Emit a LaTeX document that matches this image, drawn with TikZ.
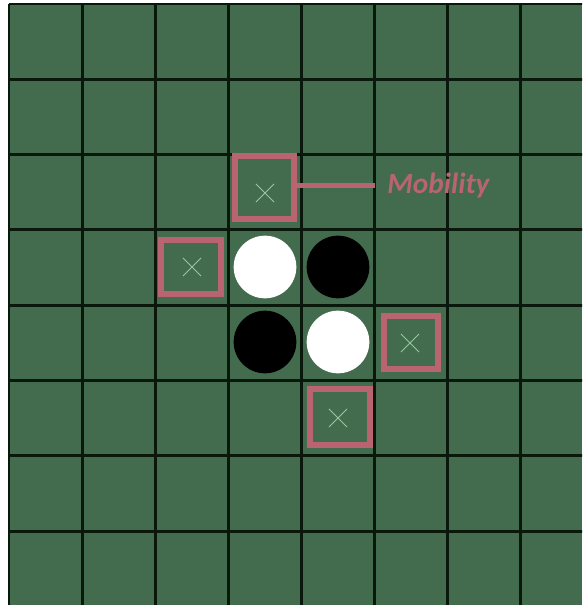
\documentclass[tikz,border=0pt]{standalone}
\usepackage{fontspec}
\setsansfont{Carlito}
\usetikzlibrary{positioning,shapes.misc}

\definecolor{boardgreen}{RGB}{67,107,77}
\definecolor{gridcol}{RGB}{10,24,12}
\definecolor{mvpink}{RGB}{184,100,113}
\definecolor{xgreen}{RGB}{150,200,160}

\begin{document}
\begin{tikzpicture}[
  x=0.75pt, y=-0.75pt,
  gridline/.style={draw=gridcol, line width=2.2pt},
  disc/.style={circle, minimum size=47pt, inner sep=0pt},
  mvbox/.style={draw=mvpink, line width=4.5pt, inner sep=0pt, minimum width=44pt, minimum height=44pt},
  xmark/.style={cross out, draw=xgreen, line width=0.6pt, minimum size=13pt, inner sep=0pt},
  link/.style={draw=mvpink, line width=4pt},
  mobtxt/.style={font=\sffamily\bfseries\itshape\fontsize{22}{26}\selectfont, text=mvpink, inner xsep=9pt, inner ysep=0pt}
]
\useasboundingbox (0,0) rectangle (582,605);
\fill[white] (0,0) rectangle (582,605);
\clip (0,0) rectangle (582,605);
\fill[boardgreen] (9,4) rectangle (582,605);

% board lines
\foreach \i in {0,...,8}
  \draw[gridline] ({9+73.1*\i},4) -- ({9+73.1*\i},612);
\foreach \j in {0,...,8}
  \draw[gridline] (9,{4+75.3*\j}) -- (590,{4+75.3*\j});

% discs
\node[disc, fill=white] (w1) at (265,267) {};
\node[disc, fill=black] (k1) at (338,267) {};
\node[disc, fill=black] (k2) at (265,342) {};
\node[disc, fill=white] (w2) at (338,342) {};

% legal moves
\node[mvbox, minimum width=44pt, minimum height=47pt] (mv1) at (264.5,187.5) {};
\node[mvbox, minimum width=45pt, minimum height=41pt] (mv2) at (191,267) {};
\node[mvbox, minimum width=41pt, minimum height=40pt] (mv3) at (411,342.5) {};
\node[mvbox, minimum width=45pt, minimum height=42pt] (mv4) at (340,417) {};

\node[xmark] (x1) at (265,193) {};
\node[xmark] (x2) at (192,267) {};
\node[xmark] (x3) at (410,343) {};
\node[xmark] (x4) at (338,418) {};

% label
\node[mobtxt, anchor=west] (mob) at (375,185.5) {Mobility};
\draw[link] (mv1.east |- mob.west) -- (mob.west);

\end{tikzpicture}
\end{document}
